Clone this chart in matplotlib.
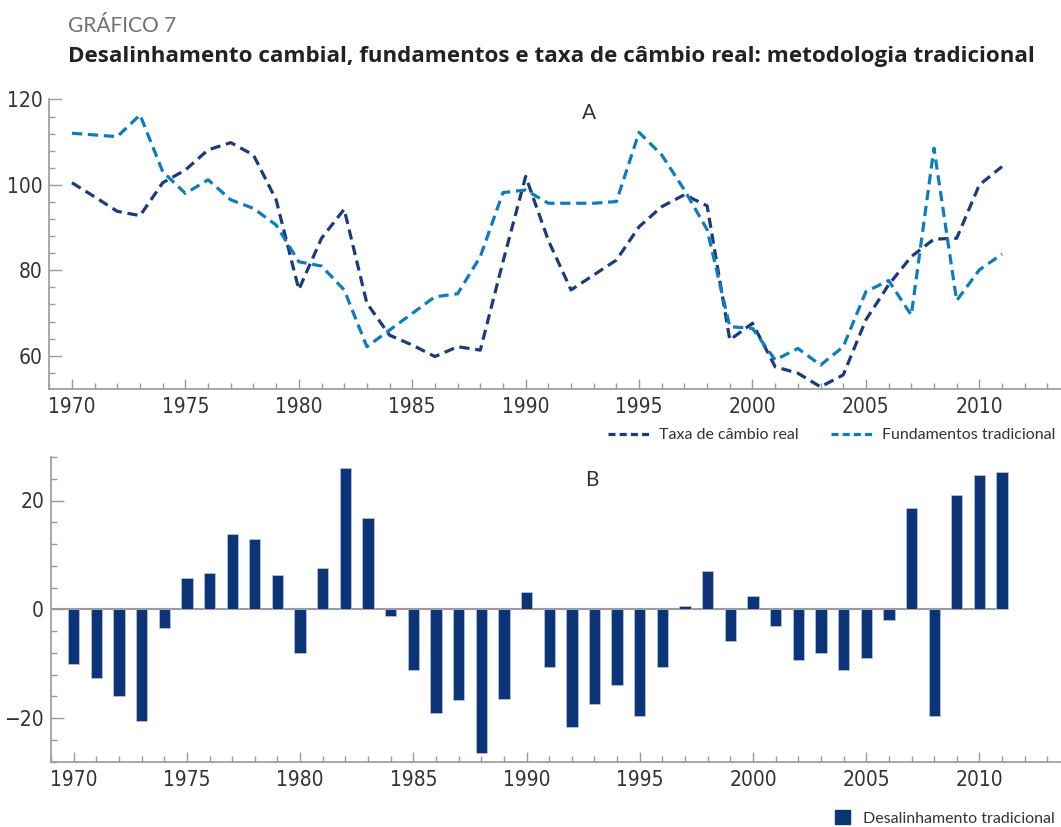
import matplotlib
matplotlib.use("Agg")
import matplotlib.pyplot as plt
from matplotlib.lines import Line2D
from matplotlib.patches import Patch
from matplotlib.ticker import MultipleLocator

TICKFONT = {"family": "DejaVu Sans", "stretch": "condensed", "size": 15}
LABELFONT = {"family": "Lato", "size": 11.5}
BOLD = ["Open Sans", "DejaVu Sans"]

years = list(range(1970, 2012))

taxa_cambio_real = [
    100.5, 97.2, 93.8, 92.8, 100.5, 103.5, 108.2, 109.9, 107.0, 96.5,
    75.5, 87.5, 94.3, 72.3, 64.8, 62.5, 59.8, 62.1, 61.3, 82.0,
    102.0, 87.0, 75.4, 78.9, 82.4, 90.2, 94.9, 97.7, 95.1, 63.7,
    67.6, 57.4, 55.9, 52.7, 55.5, 68.4, 76.6, 83.2, 87.3, 87.5,
    100.0, 104.3,
]

fundamentos = [
    112.1, 111.7, 111.3, 116.4, 103.1, 98.0, 101.2, 96.5, 94.5, 90.6,
    82.0, 81.0, 75.4, 62.1, 66.0, 69.9, 73.8, 74.5, 83.2, 98.2,
    98.8, 95.7, 95.7, 95.7, 96.1, 112.3, 107.0, 98.8, 89.5, 66.8,
    66.4, 59.0, 61.7, 57.8, 62.1, 75.0, 77.6, 69.5, 108.6, 72.9,
    80.1, 83.8,
]

desalinhamento = [
    -10.1, -12.7, -15.9, -20.6, -3.4, 5.7, 6.7, 13.9, 12.9, 6.3,
    -8.1, 7.6, 26.0, 16.7, -1.3, -11.1, -19.1, -16.6, -26.5, -16.5,
    3.2, -10.7, -21.6, -17.5, -14.0, -19.6, -10.7, 0.6, 7.0, -5.9,
    2.5, -3.0, -9.3, -8.1, -11.2, -9.0, -1.9, 18.7, -19.6, 21.0,
    24.7, 25.2,
]

DARK = "#1b3b7e"
LIGHT = "#0c7cc1"
BAR = "#0b3479"
AXIS = "#9a9a9a"
TEXT = "#333333"

W, H = 1061, 827


def style_axis(ax, ymajor):
    for side in ("top", "right"):
        ax.spines[side].set_visible(False)
    for side in ("left", "bottom"):
        ax.spines[side].set_color(AXIS)
        ax.spines[side].set_linewidth(1.2)
    ax.set_xlim(1969, 2013.6)
    ax.xaxis.set_major_locator(MultipleLocator(5))
    ax.xaxis.set_minor_locator(MultipleLocator(1))
    ax.yaxis.set_major_locator(MultipleLocator(ymajor))
    ax.yaxis.set_minor_locator(MultipleLocator(4))
    ax.tick_params(axis="both", which="both", direction="in", color=AXIS, width=1.0)
    ax.tick_params(axis="y", which="major", length=9, pad=5)
    ax.tick_params(axis="y", which="minor", length=4)
    ax.tick_params(axis="x", which="major", length=7.5, pad=6)
    ax.tick_params(axis="x", which="minor", length=4)
    for label in ax.get_xticklabels() + ax.get_yticklabels():
        label.set_fontproperties(TICKFONT)
        label.set_color(TEXT)


fig = plt.figure(figsize=(W / 100, H / 100), dpi=100)

ax1 = fig.add_axes([49.3 / W, 1 - 389 / H, (W - 49.3) / W, (389 - 99.5) / H])
ax1.plot(years, taxa_cambio_real, color=DARK, lw=2.3, dashes=(3.2, 1.8))
ax1.plot(years, fundamentos, color=LIGHT, lw=2.3, dashes=(3.2, 1.8))
ax1.set_ylim(52.2, 120)
style_axis(ax1, 20)
ax1.text(0.533, 0.955, "A", transform=ax1.transAxes, ha="center", va="center",
         family="Lato", fontsize=15, color=TEXT)

ax2 = fig.add_axes([51 / W, 1 - 761.5 / H, (W - 51) / W, (761.5 - 457) / H])
ax2.hlines(0, 1969, years[-1] - 0.25, color=AXIS, lw=1.5, zorder=1)
ax2.bar(years, desalinhamento, width=0.5, color=BAR, edgecolor="#c9d1e6",
        linewidth=0.4, zorder=2)
ax2.set_ylim(-28, 28)
style_axis(ax2, 20)
ax2.text(0.535, 0.925, "B", transform=ax2.transAxes, ha="center", va="center",
         family="Lato", fontsize=15, color=TEXT)

fig.text(68 / W, 1 - 32 / H, "GRÁFICO 7", family="Lato",
         fontsize=15, color="#707070", va="baseline", ha="left")
fig.text(68 / W, 1 - 62 / H,
         "Desalinhamento cambial, fundamentos e taxa de câmbio real: metodologia tradicional",
         family=BOLD, fontweight="bold", fontsize=16.1, color="#222222",
         va="baseline", ha="left")

line_handles = [
    Line2D([], [], color=DARK, lw=2.3, dashes=(2.2, 1.3)),
    Line2D([], [], color=LIGHT, lw=2.3, dashes=(2.2, 1.3)),
]
leg1 = fig.legend(line_handles, ["Taxa de câmbio real", "Fundamentos tradicional"],
                  loc="center right", bbox_to_anchor=(1055 / W, 1 - 435 / H),
                  ncol=2, frameon=False, prop=LABELFONT,
                  handlelength=2.6, handletextpad=0.6, columnspacing=2.0,
                  borderpad=0, borderaxespad=0)
for t in leg1.get_texts():
    t.set_color(TEXT)

leg2 = fig.legend([Patch(facecolor=BAR, edgecolor=BAR)], ["Desalinhamento tradicional"],
                  loc="center right", bbox_to_anchor=(1055 / W, 1 - 818 / H),
                  frameon=False, prop=LABELFONT,
                  handlelength=0.95, handleheight=0.95, handletextpad=0.8,
                  borderpad=0, borderaxespad=0)
for t in leg2.get_texts():
    t.set_color(TEXT)

fig.savefig("out.png", dpi=100)
